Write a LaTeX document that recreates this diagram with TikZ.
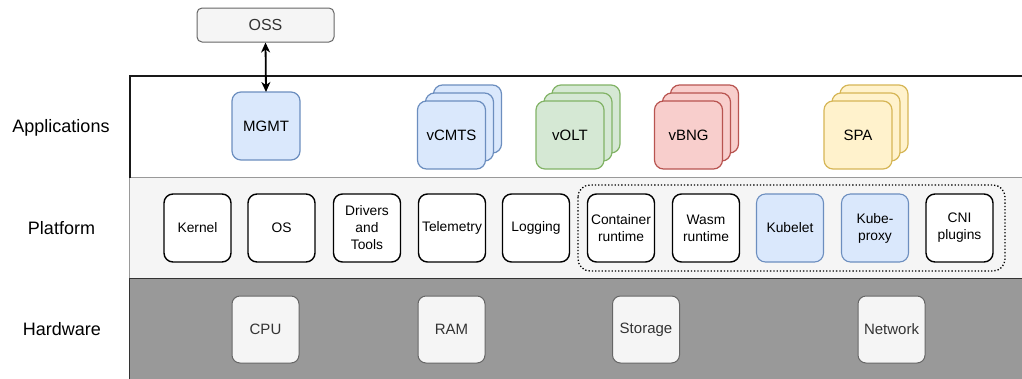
\documentclass[tikz,border=0pt]{standalone}
\usepackage{fontspec}
\setmainfont{Liberation Sans}
\usetikzlibrary{arrows.meta,calc}

\definecolor{bluefill}{HTML}{DAE8FC}
\definecolor{bluedraw}{HTML}{6C8EBF}
\definecolor{greenfill}{HTML}{D5E8D4}
\definecolor{greendraw}{HTML}{82B366}
\definecolor{redfill}{HTML}{F8CECC}
\definecolor{reddraw}{HTML}{B85450}
\definecolor{yellowfill}{HTML}{FFF2CC}
\definecolor{yellowdraw}{HTML}{D6B656}
\definecolor{greyfill}{HTML}{F5F5F5}
\definecolor{greydraw}{HTML}{666666}
\definecolor{hwfill}{HTML}{999999}
\definecolor{darktext}{HTML}{333333}

\tikzset{
  box/.style={rounded corners=9pt, minimum width=68pt, minimum height=68pt,
    inner sep=0pt, outer sep=0pt, align=center, line width=1.2pt,
    font=\fontsize{15}{17}\selectfont},
  appbox/.style={box, draw=#1draw, fill=#1fill},
  platbox/.style={rounded corners=9pt, minimum width=67pt, minimum height=68pt,
    inner sep=0pt, outer sep=0pt, align=center, line width=1.4pt,
    draw=black, fill=white, font=\fontsize{13.8}{17}\selectfont},
  kubebox/.style={platbox, draw=bluedraw, fill=bluefill, line width=1.1pt},
  hwbox/.style={rounded corners=8pt, minimum width=67pt, minimum height=67pt,
    inner sep=0pt, outer sep=0pt, draw=greydraw, fill=greyfill, line width=1pt,
    text=darktext, font=\fontsize{15}{17}\selectfont},
  layerlabel/.style={font=\fontsize{18}{20}\selectfont, anchor=center},
  link/.style={line width=1.8pt, {Stealth[length=10pt,width=9pt,inset=3pt]}-{Stealth[length=10pt,width=9pt,inset=3pt]}}
}

% stack of three offset boxes; #1 = name, #2 = colour, #3 = centre, #4 = text
\newcommand{\appstack}[4]{%
  \node[appbox=#2] (#1-back) at ($(#3)+(16,-16)$) {};
  \node[appbox=#2] (#1-mid) at ($(#3)+(8,-8)$) {};
  \node[appbox=#2] (#1) at (#3) {#4};
}

\begin{document}
\begin{tikzpicture}[x=1pt,y=-1pt]
\useasboundingbox (0,0) rectangle (1022,378);
\clip (0,0) rectangle (1022,378);

% layer bands
\draw[line width=2pt, draw=black!90, fill=white] (129.5,75.5) rectangle (1040,177.5);
\draw[line width=1pt, draw=hwfill, fill=greyfill] (129.5,177.5) rectangle (1040,278.5);
\draw[line width=1.6pt, draw=darktext, fill=hwfill] (129.5,278.5) rectangle (1040,400);
\draw[line width=2pt, draw=black!90] (129.5,75.5) -- (129.5,177.5);

% layer names
\node[layerlabel] (lapps) at (61,127.5) {Applications};
\node[layerlabel] (lplat) at (61.5,228.5) {Platform};
\node[layerlabel] (lhw) at (62,329.5) {Hardware};

% applications
\node[rounded corners=5pt, minimum width=137pt, minimum height=34pt, inner sep=0pt,
  draw=greydraw, fill=greyfill, line width=1pt, text=darktext,
  font=\fontsize{16}{18}\selectfont] (oss) at (265.5,25) {OSS};
\node[appbox=blue] (mgmt) at (266,126) {MGMT};
\draw[link] (oss.south) -- (mgmt.north);

\appstack{vcmts}{blue}{451.5,135}{vCMTS}
\appstack{volt}{green}{570,135}{vOLT}
\appstack{vbng}{red}{688.5,135}{vBNG}
\appstack{spa}{yellow}{858,135}{SPA}

% platform
\draw[dotted, line width=1.3pt, rounded corners=12pt] (578,185) rectangle (1005,271);
\node[platbox] (kernel) at (197.5,228) {Kernel};
\node[platbox] (os) at (281.5,228) {OS};
\node[platbox] (drivers) at (367,228) {Drivers\\and\\Tools};
\node[platbox] (telemetry) at (452,228) {Telemetry};
\node[platbox] (logging) at (536,228) {Logging};
\node[platbox] (container) at (621,228) {Container\\runtime};
\node[platbox] (wasm) at (706,228) {Wasm\\runtime};
\node[kubebox] (kubelet) at (790,228) {Kubelet};
\node[kubebox] (kubeproxy) at (875,228) {Kube-\\proxy};
\node[platbox] (cni) at (959.5,228) {CNI\\plugins};

% hardware
\node[hwbox] (cpu) at (265.5,329.5) {CPU};
\node[hwbox] (ram) at (451.5,329.5) {RAM};
\node[hwbox] (storage) at (646,329.5) {Storage};
\node[hwbox] (network) at (891.5,329.5) {Network};
\end{tikzpicture}
\end{document}
